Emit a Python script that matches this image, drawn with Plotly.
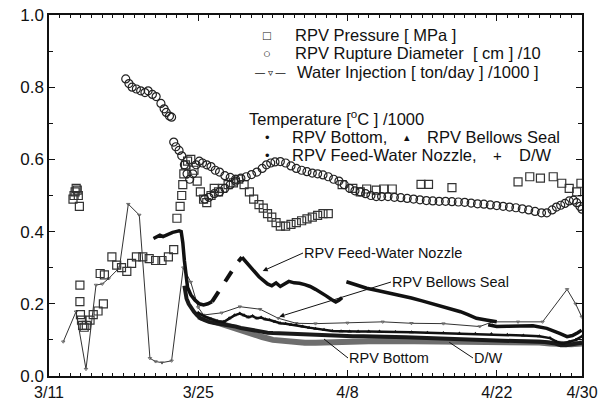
import plotly.graph_objects as go

FONT = "Liberation Sans, Arial, sans-serif"

# x values are days after 3/11
tick_days = [0, 14, 28, 42, 50]
tick_text = ["3/11", "3/25", "4/8", "4/22", "4/30"]

pressure_day = [2.25, 2.35, 2.45, 2.55, 2.65, 2.75, 2.85,
                2.9, 2.9, 2.95, 3.05, 3.15, 3.3, 3.5, 3.85, 4.15, 4.6, 5.1, 4.8, 5.2, 5.9, 6.35, 6.8, 7.3,
                7.75, 8.2, 8.8, 9.4, 10.0, 10.6, 11.2, 11.7, 12.0,
                12.3, 12.45, 12.55, 12.65, 12.8, 13.0, 13.3, 13.6, 13.9, 14.2, 14.5, 14.8, 15.2, 15.5, 15.9,
                16.3, 16.8, 17.3, 17.8, 18.3, 18.8, 19.2, 19.7, 20.1, 20.5, 20.9, 21.3, 21.7, 22.2, 22.7,
                23.2, 23.7, 24.2, 24.7, 25.2, 25.7, 26.2,
                27.5, 28.5, 29.2, 29.8, 30.7, 31.4, 32.2, 34.9, 35.6, 37.8, 44.0, 45.1, 46.1, 47.3,
                48.1, 48.8, 49.5, 49.9]
pressure_val = [0.49, 0.50, 0.51, 0.52, 0.515, 0.50, 0.47,
                0.252, 0.206, 0.17, 0.155, 0.14, 0.135, 0.14, 0.155, 0.17, 0.18, 0.20, 0.284, 0.28, 0.33, 0.307, 0.30, 0.29,
                0.312, 0.33, 0.33, 0.325, 0.32, 0.32, 0.33, 0.35, 0.437,
                0.47, 0.50, 0.53, 0.56, 0.585, 0.595, 0.60, 0.57, 0.54, 0.51, 0.49, 0.48, 0.50, 0.52, 0.51,
                0.52, 0.53, 0.535, 0.545, 0.53, 0.51, 0.49, 0.475, 0.465, 0.45, 0.44, 0.425, 0.415, 0.415, 0.42,
                0.425, 0.43, 0.435, 0.44, 0.445, 0.45, 0.45,
                0.53, 0.52, 0.51, 0.518, 0.515, 0.518, 0.518, 0.531, 0.531, 0.522, 0.538, 0.552, 0.548, 0.552,
                0.534, 0.52, 0.51, 0.534]

diam_day = [7.2, 7.5, 7.8, 8.2, 8.6, 9.0, 9.3, 9.7, 10.05, 10.5, 10.8, 11.0, 11.3, 11.5,
            11.7, 11.9, 12.2, 12.45, 12.7, 12.95, 13.2, 13.5, 13.8, 14.1, 14.4, 14.8, 15.2, 15.6, 16.0,
            16.5, 17.0, 17.5,
            14.6, 15.0, 15.5, 16.0, 16.5, 17.0, 17.5, 18.0, 18.5, 19.0, 19.5, 20.0, 20.4, 20.8, 21.2,
            21.7, 22.2, 22.7, 23.2, 23.7, 24.2, 24.7, 25.2, 25.7, 26.2, 26.7, 27.2, 27.7, 28.2, 28.7,
            29.2, 29.7, 30.2, 30.7, 31.2, 31.8, 32.4, 33.0, 33.6, 34.2, 34.8, 35.4, 36.0, 36.6, 37.2,
            37.8, 38.4, 39.0, 39.6, 40.2, 40.8, 41.4, 42.0, 42.6, 43.2, 43.8, 44.4, 45.0, 45.6, 46.2,
            46.7, 47.2, 47.6, 48.0, 48.4, 48.8, 49.2, 49.5, 49.8, 50.0]
diam_val = [0.823, 0.81, 0.80, 0.795, 0.79, 0.785, 0.79, 0.78, 0.774, 0.755, 0.74, 0.73, 0.72, 0.717,
            0.648, 0.635, 0.625, 0.61, 0.585, 0.56, 0.545, 0.56, 0.585, 0.595, 0.59, 0.585, 0.58, 0.57, 0.565,
            0.555, 0.55, 0.545,
            0.49, 0.495, 0.505, 0.51, 0.52, 0.53, 0.54, 0.548, 0.552, 0.558, 0.565, 0.575, 0.585, 0.59, 0.593,
            0.594, 0.59, 0.582, 0.575, 0.57, 0.566, 0.562, 0.56, 0.557, 0.552, 0.545, 0.54, 0.53, 0.52, 0.513,
            0.51, 0.505, 0.50, 0.497, 0.497, 0.497, 0.495, 0.494, 0.492, 0.49, 0.488, 0.486, 0.485, 0.484, 0.484,
            0.483, 0.482, 0.481, 0.479, 0.477, 0.476, 0.474, 0.472, 0.47, 0.468, 0.466, 0.463, 0.46, 0.456, 0.452,
            0.452, 0.46, 0.468, 0.473, 0.478, 0.485, 0.487, 0.48, 0.47, 0.462]

water_day = [1.34, 2.53, 3.47, 4.41, 5.0, 5.6, 6.6, 7.44, 8.47, 9.47, 10.0, 10.6, 11.5, 12.6, 13.3,
             14.0, 14.5, 16.2, 17.9, 19.8, 21.5, 23.2, 25.0, 28.0, 31.3, 34.0, 37.0, 40.4, 41.6, 44.0,
             46.3, 48.6, 49.4, 49.97]
water_val = [0.095, 0.178, 0.019, 0.252, 0.255, 0.27, 0.30, 0.476, 0.446, 0.049, 0.04, 0.037, 0.042, 0.30, 0.26,
             0.19, 0.169, 0.175, 0.192, 0.185, 0.16, 0.146, 0.145, 0.147, 0.150, 0.146, 0.145, 0.137, 0.150, 0.150,
             0.150, 0.24, 0.20, 0.164]

fwn_day = [9.8, 10.1, 10.4, 10.7, 11.0, 11.3, 11.6, 11.9, 12.2, 12.4, 12.55, 12.7, 12.85, 13.0, 13.3, 13.7,
           14.1, 14.5, 14.9, 15.3, None,
           18.1, 18.5, 18.9, 19.3, 19.7, 20.1, 20.5, 20.9, 21.3, 21.7, 22.1, 22.5, 23.0, 23.5, 24.0, 24.5,
           25.0, 25.5, 26.0, 26.5, 26.9, 27.2, 27.5, None,
           27.9, 28.8, 29.8, 30.8, 31.8, 32.9, 34.0, 35.0, 36.0, 37.0, 38.0, 38.6, 39.3, 40.1, 41.0, 42.0, None,
           41.2, 42.0, 43.0, 44.0, 45.4, 46.7, 47.4, 47.9, 48.6, 49.1, 49.6, 49.97]
fwn_val = [0.381, 0.385, 0.39, 0.386, 0.39, 0.395, 0.398, 0.40, 0.402, 0.40, 0.37, 0.32, 0.27, 0.245, 0.225, 0.21,
           0.20, 0.197, 0.20, 0.206, None,
           0.329, 0.315, 0.30, 0.287, 0.275, 0.265, 0.255, 0.25, 0.258, 0.248, 0.255, 0.262, 0.258, 0.257, 0.253, 0.248,
           0.24, 0.232, 0.222, 0.212, 0.205, 0.21, 0.217, None,
           0.261, 0.252, 0.243, 0.237, 0.231, 0.224, 0.216, 0.208, 0.20, 0.192, 0.183, 0.178, 0.17, 0.16, 0.155, 0.15, None,
           0.142, 0.137, 0.138, 0.139, 0.139, 0.132, 0.125, 0.118, 0.109, 0.112, 0.12, 0.127]

fwn_dash_day = [15.3, 15.7, 16.1, 16.5, 16.9, 17.3, 17.7, 18.1]
fwn_dash_val = [0.206, 0.225, 0.24, 0.26, 0.28, 0.30, 0.315, 0.329]

bellows_day = [14.0, 14.6, 15.2, 15.8, 16.4, 16.9, 17.4, 17.9, 18.3, 18.7, 19.1, 19.5, 19.9, 20.3, 20.7, 21.2,
               21.7, 22.2, 22.7, 23.2, 23.8, 24.4, 25.0, 25.8, 26.6, 27.4, 28.2, 29.0, 30.0, 31.0, 32.5, 34.0,
               35.5, 37.0, 38.5, 40.0, 41.5, 43.0, 44.5, 46.0, 47.0, 47.6, 48.2, 48.8, 49.4, 50.0]
bellows_val = [0.175, 0.165, 0.158, 0.152, 0.15, 0.16, 0.168, 0.173, 0.168, 0.163, 0.166, 0.16, 0.162, 0.157, 0.155, 0.15,
               0.146, 0.145, 0.142, 0.141, 0.137, 0.134, 0.131, 0.128, 0.125, 0.124, 0.123, 0.123, 0.123, 0.123, 0.122, 0.121,
               0.12, 0.119, 0.118, 0.117, 0.116, 0.114, 0.112, 0.11, 0.105, 0.095, 0.09, 0.095, 0.10, 0.11]

bottom_day = [12.7, 12.9, 13.1, 13.3, 13.6, 13.9, 14.2, 14.6, 15.0, 15.5, 16.0, 16.5, 17.0, 17.5, 18.0, 18.5,
              19.0, 19.5, 20.0, 20.5, 21.0, 21.7, 22.5, 23.5, 24.5, 25.5, 26.5, 27.5, 28.5, 29.5, 30.5, 31.5,
              32.5, 33.5, 34.5, 35.5, 36.5, 37.5, 38.5, 39.5, 40.5, 41.5, 42.5, 43.5, 44.5, 45.5, 46.5, 47.5,
              48.0, 48.5, 49.0, 49.5, 50.0]
bottom_val = [0.25, 0.215, 0.20, 0.19, 0.178, 0.168, 0.16, 0.155, 0.15, 0.147, 0.145, 0.143, 0.14, 0.137, 0.133, 0.13,
              0.127, 0.124, 0.122, 0.12, 0.119, 0.118, 0.117, 0.116, 0.115, 0.114, 0.113, 0.112, 0.11, 0.11, 0.11, 0.109,
              0.108, 0.107, 0.106, 0.105, 0.104, 0.103, 0.102, 0.101, 0.10, 0.10, 0.099, 0.098, 0.097, 0.096, 0.094, 0.09,
              0.085, 0.085, 0.088, 0.09, 0.092]

dw_day = [14.0, 15.0, 16.0, 17.0, 18.0, 19.0, 20.0, 21.0, 22.0, 23.0, 24.0, 25.0, 26.0, 27.0, 28.0, 30.0,
          32.0, 34.0, 36.0, 38.0, 40.0, 42.0, 44.0, 46.0, 47.0, 48.0, 49.0, 50.0]
dw_val = [0.165, 0.155, 0.145, 0.135, 0.125, 0.117, 0.108, 0.10, 0.096, 0.093, 0.092, 0.092, 0.092, 0.093, 0.094, 0.096,
          0.097, 0.097, 0.097, 0.096, 0.096, 0.095, 0.094, 0.093, 0.09, 0.087, 0.088, 0.09]

fig = go.Figure()
fig.add_trace(go.Scatter(x=water_day, y=water_val, mode="lines+markers",
                         line=dict(color="#333", width=1),
                         marker=dict(symbol="triangle-down-open", size=3, color="#666")))
fig.add_trace(go.Scatter(x=dw_day, y=dw_val, mode="lines", line=dict(color="#6e6e6e", width=6)))
fig.add_trace(go.Scatter(x=bottom_day, y=bottom_val, mode="lines", line=dict(color="#1a1a1a", width=4)))
fig.add_trace(go.Scatter(x=bellows_day, y=bellows_val, mode="lines+markers", line=dict(color="#111", width=2.5),
                         marker=dict(symbol="triangle-up", size=4, color="#111")))
fig.add_trace(go.Scatter(x=fwn_day, y=fwn_val, mode="lines", line=dict(color="#111", width=3.5)))
fig.add_trace(go.Scatter(x=fwn_dash_day, y=fwn_dash_val, mode="lines",
                         line=dict(color="#111", width=4, dash="dash")))
fig.add_trace(go.Scatter(x=pressure_day, y=pressure_val, mode="markers",
                         marker=dict(symbol="square-open", size=8, color="#333", line=dict(width=1.2))))
fig.add_trace(go.Scatter(x=diam_day, y=diam_val, mode="markers",
                         marker=dict(symbol="circle-open", size=8, color="#222", line=dict(width=1.2))))


def px2paper(px, py):
    return (px - 49) / 533.0, (376 - py) / 361.0


anns = []


def text_at(px, py, s, size=16.5, xanchor="left"):
    xp, yp = px2paper(px, py)
    anns.append(dict(xref="paper", yref="paper", x=xp, y=yp, text=s, showarrow=False,
                     xanchor=xanchor, yanchor="middle", font=dict(family=FONT, size=size, color="#111")))


def label_arrow(hx, hy, tx, ty, s, head):
    # text box left-middle sits at the arrow tail; arrow runs to the head
    xp, yp = px2paper(hx, hy)
    anns.append(dict(xref="paper", yref="paper", x=xp, y=yp, text=s, showarrow=True,
                     ax=tx - hx, ay=ty - hy, xanchor="left", yanchor="middle",
                     arrowhead=head, arrowsize=1, arrowwidth=1, arrowcolor="#111",
                     standoff=0, startstandoff=0, borderpad=0,
                     font=dict(family=FONT, size=14.5, color="#111")))


# legend
text_at(267, 35, "□", 13, "center")
text_at(293, 35, "RPV Pressure [ MPa ]")
text_at(267, 53, "○", 13, "center")
text_at(293, 53, "RPV Rupture Diameter  [ cm ] /10")
text_at(270, 72, "— ▿ —", 10, "center")
text_at(295, 72, "Water Injection [ ton/day ] /1000 ]")
text_at(247, 118, "Temperature [<sup>o</sup>C ] /1000")
text_at(267, 137, "•", 13, "center")
text_at(290, 137, "RPV Bottom,")
text_at(407, 137, "▴", 11, "center")
text_at(425, 137, "RPV Bellows Seal")
text_at(267, 155, "•", 13, "center")
text_at(290, 155, "RPV Feed-Water Nozzle,")
text_at(497, 155, "+", 15, "center")
text_at(517, 155, "D/W")

# curve labels with arrows
label_arrow(262.7, 271, 303, 253, "RPV Feed-Water Nozzle", 2)
label_arrow(279.3, 316.7, 391, 282, "RPV Bellows Seal", 2)
label_arrow(324, 339, 348, 358, "RPV Bottom", 0)
label_arrow(449.3, 342.3, 473, 358, "D/W", 0)

fig.update_layout(
    width=612, height=403,
    margin=dict(l=49, r=30, t=15, b=27),
    paper_bgcolor="white", plot_bgcolor="white",
    showlegend=False,
    annotations=anns,
    font=dict(family=FONT, color="#111"),
)
fig.update_xaxes(range=[0, 50], tickmode="array", tickvals=tick_days, ticktext=tick_text,
                 ticks="inside", ticklen=6, tickwidth=1, tickcolor="#111",
                 showline=True, linecolor="#111", linewidth=1.5, mirror="allticks",
                 showgrid=False, zeroline=False, automargin=False,
                 tickfont=dict(family=FONT, size=16, color="#111"), ticklabelstandoff=1,
                 minor=dict(tickmode="linear", tick0=0, dtick=1, ticks="inside", ticklen=3,
                            tickcolor="#111", showgrid=False))
fig.update_yaxes(range=[0, 1], tickmode="linear", tick0=0, dtick=0.2, tickformat=".1f",
                 ticks="inside", ticklen=6, tickwidth=1, tickcolor="#111",
                 showline=True, linecolor="#111", linewidth=1.5, mirror="allticks",
                 showgrid=False, zeroline=False, automargin=False,
                 tickfont=dict(family=FONT, size=17, color="#111"),
                 minor=dict(tickmode="linear", tick0=0, dtick=0.1, ticks="inside", ticklen=4,
                            tickcolor="#111", showgrid=False))

fig.write_html("out.html", config={"displayModeBar": False},
               post_script="document.body.style.margin='0px';")
